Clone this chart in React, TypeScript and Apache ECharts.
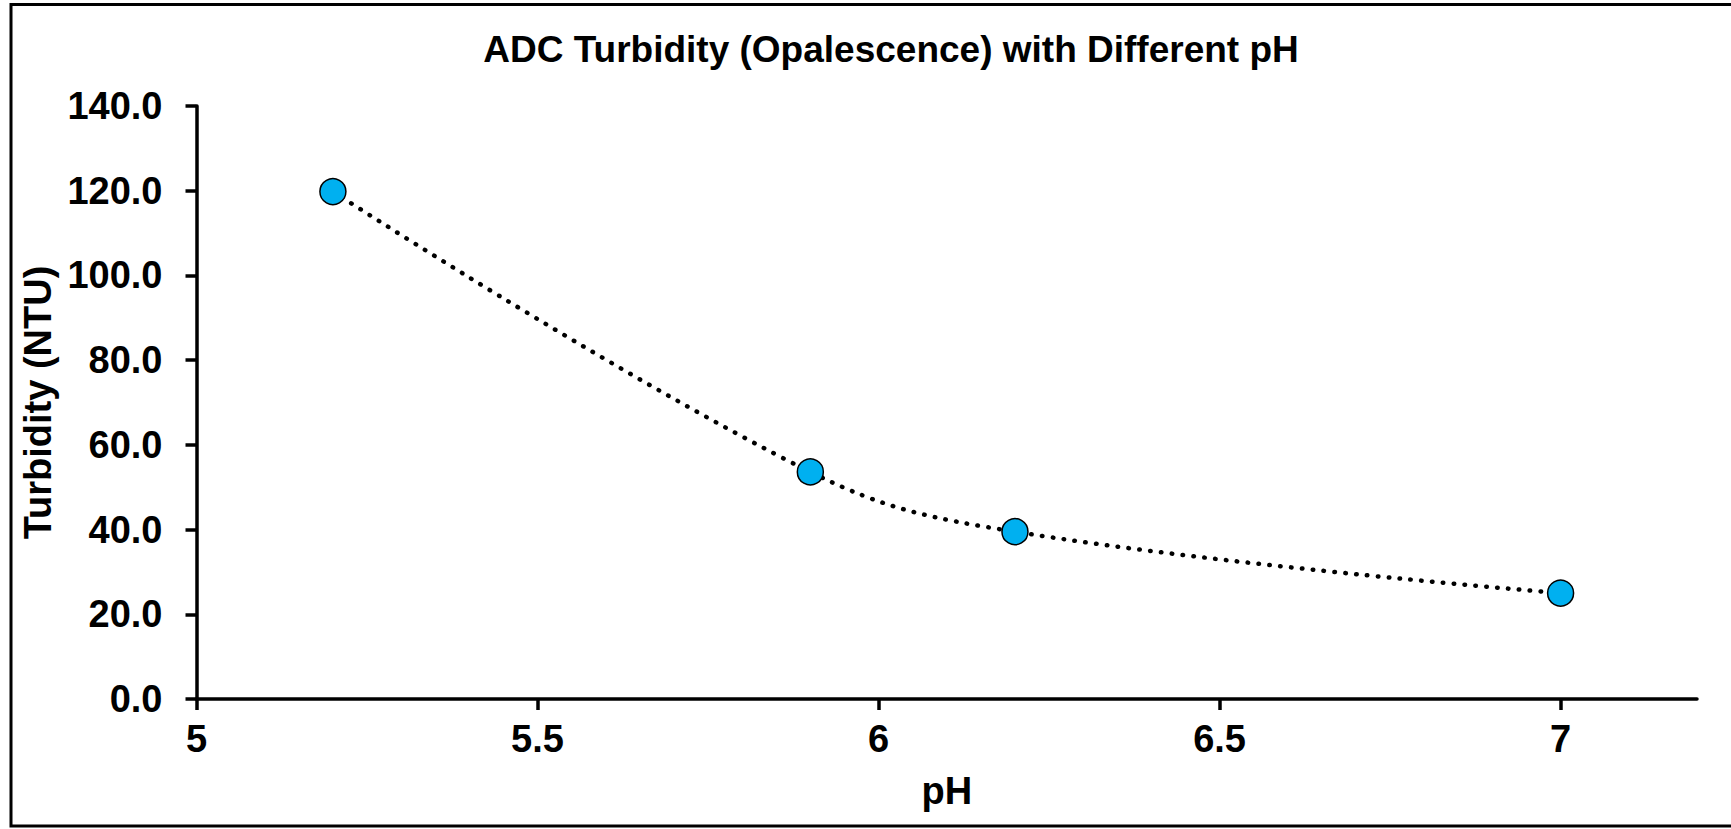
import React, { useEffect, useRef } from "react";
import * as echarts from "echarts";

const TITLE = "ADC Turbidity (Opalescence) with Different pH";
const X_NAME = "pH";
const Y_NAME = "Turbidity (NTU)";
const PH_VALUES = [5.2, 5.9, 6.2, 7.0];
const TURBIDITY = [119.8, 53.6, 39.5, 25.0];
const X_TICKS = [5, 5.5, 6, 6.5, 7];
const FONT = "'Liberation Sans', Arial, sans-serif";

export default function App() {
  const ref = useRef<HTMLDivElement>(null);
  useEffect(() => {
    if (!ref.current) return;
    const chart = echarts.init(ref.current, undefined, { renderer: "svg" });
    const data = PH_VALUES.map((x, i) => [x, TURBIDITY[i]]);
    chart.setOption({
      animation: false,
      backgroundColor: "#ffffff",
      title: {
        text: TITLE,
        left: 886,
        top: 26,
        textAlign: "center",
        textStyle: { fontFamily: FONT, fontSize: 37, fontWeight: "bold", color: "#000" },
      },
      graphic: [
        {
          type: "rect",
          shape: { x: 11, y: 4.5, width: 1740, height: 821.5 },
          style: { fill: "none", stroke: "#000", lineWidth: 3 },
          silent: true,
        },
      ],
      grid: { left: 196.5, top: 106, right: 34, bottom: 130 },
      xAxis: {
        type: "value",
        min: 5,
        max: 7.2,
        interval: 0.5,
        name: X_NAME,
        nameLocation: "middle",
        nameGap: 73,
        nameTextStyle: { fontFamily: FONT, fontSize: 38, fontWeight: "bold", color: "#000", verticalAlign: "top" },
        splitLine: { show: false },
        axisLine: { show: true, onZero: false, lineStyle: { color: "#000", width: 3.5 } },
        axisTick: { show: true, length: 11, customValues: X_TICKS, lineStyle: { color: "#000", width: 3.5 } },
        axisLabel: {
          customValues: X_TICKS,
          margin: 21,
          fontFamily: FONT,
          fontSize: 38,
          fontWeight: "bold",
          color: "#000",
        },
      },
      yAxis: {
        type: "value",
        min: 0,
        max: 140,
        interval: 20,
        name: Y_NAME,
        nameLocation: "middle",
        nameGap: 139,
        nameTextStyle: { fontFamily: FONT, fontSize: 38, fontWeight: "bold", color: "#000" },
        splitLine: { show: false },
        axisLine: { show: true, lineStyle: { color: "#000", width: 3.5 } },
        axisTick: { show: true, length: 11, lineStyle: { color: "#000", width: 3.5 } },
        axisLabel: {
          margin: 34,
          fontFamily: FONT,
          fontSize: 38,
          fontWeight: "bold",
          color: "#000",
          formatter: (v: number) => v.toFixed(1),
        },
      },
      series: [
        {
          type: "line",
          data,
          smooth: 0.4,
          symbol: "circle",
          symbolSize: 26,
          itemStyle: { color: "#00B0F0", borderColor: "#000", borderWidth: 1.5 },
          lineStyle: { color: "#000", width: 4.5, type: [0.5, 10.4], cap: "round" },
          z: 3,
        },
      ],
    });
    return () => chart.dispose();
  }, []);
  return (
    <div
      ref={ref}
      style={{ position: "fixed", left: 0, top: 0, width: 1731, height: 829, background: "#fff" }}
    />
  );
}
